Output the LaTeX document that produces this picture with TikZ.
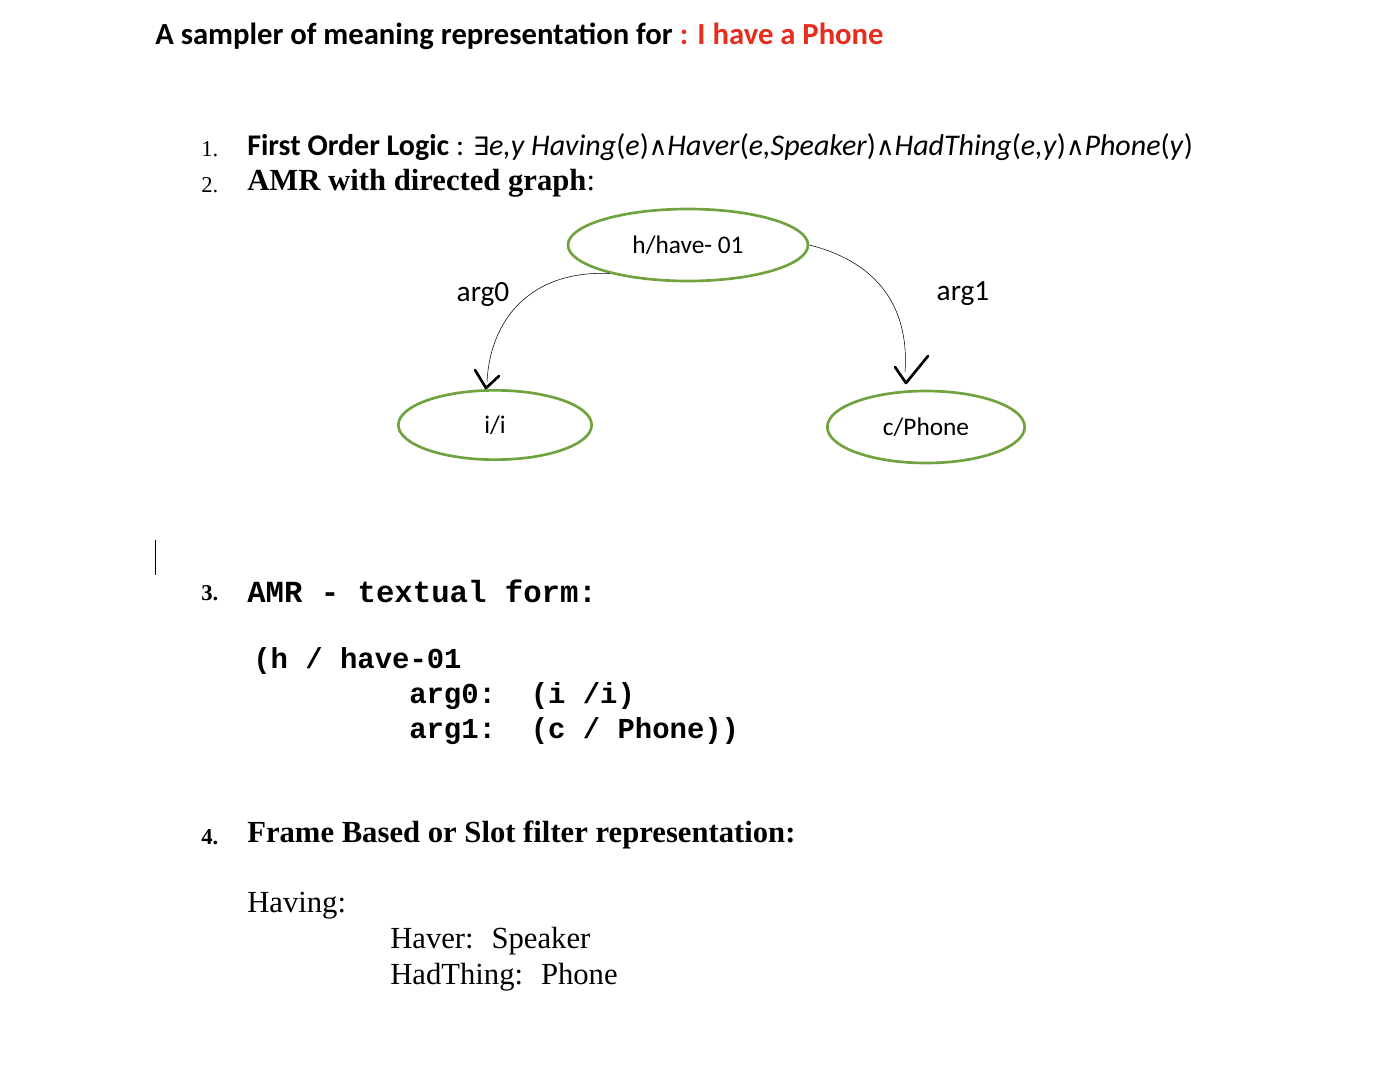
\documentclass[tikz,border=0pt]{standalone}
\usepackage{fontspec}
\usetikzlibrary{shapes.geometric}
\setmainfont{Liberation Serif}
\newfontfamily\calfont{Carlito}
\newfontfamily\djfont{DejaVu Sans}
\setmonofont{Liberation Mono}
\definecolor{grn}{RGB}{112,163,63}
\definecolor{redt}{RGB}{230,45,30}
\begin{document}
\begin{tikzpicture}[x=0.75pt,y=-0.75pt,
 ell/.style={draw=grn,line width=2pt,ellipse,font=\calfont\fontsize{19}{22}\selectfont},
 tx/.style={anchor=west,inner sep=0pt},
 num/.style={anchor=west,inner sep=0pt,font=\fontsize{17}{20}\selectfont},
 ser/.style={anchor=west,inner sep=0pt,font=\fontsize{23}{27}\selectfont},
 mono/.style={anchor=west,inner sep=0pt,font=\ttfamily\bfseries\fontsize{21.7}{26}\selectfont},
 chk/.style={line width=2pt,line cap=round,line join=round}]
\fill[white] (0,0) rectangle (1400,1072);
\useasboundingbox (0,0) rectangle (1400,1072);
\node[tx,font=\calfont\bfseries\fontsize{23}{27}\selectfont] (title) at (155,36) {A sampler of meaning representation for \textcolor{redt}{: I have a Phone}};
\node[num] (n1) at (201,149) {1.};
\node[tx,font=\calfont\fontsize{22.5}{27}\selectfont] (fol) at (247,147) {\textbf{First Order Logic} : {\djfont\fontsize{19}{22}\selectfont ∃}\textit{e,y Having}(\textit{e})\raisebox{0pt}{\djfont\fontsize{19}{22}\selectfont ∧}\textit{Haver}(\textit{e,Speaker})\raisebox{0pt}{\djfont\fontsize{19}{22}\selectfont ∧}\textit{HadThing}(\textit{e,y})\raisebox{0pt}{\djfont\fontsize{19}{22}\selectfont ∧}\textit{Phone}(\textit{y})};
\node[num] (n2) at (201,185) {2.};
\node[ser] (amr) at (247,183) {\textbf{AMR with directed graph}:};
\node[ell,minimum width=180pt,minimum height=54pt] (h) at (688,245) {h/have- 01};
\node[ell,minimum width=145pt,minimum height=52pt] (i) at (495,425) {i/i};
\node[ell,minimum width=148pt,minimum height=54pt] (c) at (926,427) {c/Phone};
\node[font=\calfont\fontsize{22}{26}\selectfont] (a0) at (483,294) {arg0};
\node[font=\calfont\fontsize{22}{26}\selectfont] (a1) at (963,294) {arg1};
\coordinate (e0) at (487,382);
\coordinate (e1) at (905,372);
\draw (h.200) .. controls (530,270) and (490,320) .. (e0);
\draw (h.east) .. controls (870,260) and (910,300) .. (e1);
\draw[chk] (475,370) -- (486,388) -- (499,376);
\draw[chk] (895,367) -- (906,383) -- (928,356);
\draw (155,540) -- (155,575);
\node[num,font=\bfseries\fontsize{17}{20}\selectfont] (n3) at (201,593) {3.};
\node[mono,font=\ttfamily\bfseries\fontsize{23}{27}\selectfont] (t3) at (247,591) {AMR - textual form:};
\node[mono] (c1) at (253,661) {(h / have-01};
\node[mono] (c2) at (409,696) {arg0: \ (i /i)};
\node[mono] (c3) at (409,731) {arg1: \ (c / Phone))};
\node[num,font=\bfseries\fontsize{17}{20}\selectfont] (n4) at (201,837) {4.};
\node[ser] (t4) at (247,835) {\textbf{Frame Based or Slot filter representation:}};
\node[ser] (hv) at (247,906) {Having:};
\node[ser] (hr) at (390,941) {Haver: \ Speaker};
\node[ser] (ht) at (390,977) {HadThing: \ Phone};
\end{tikzpicture}
\end{document}
